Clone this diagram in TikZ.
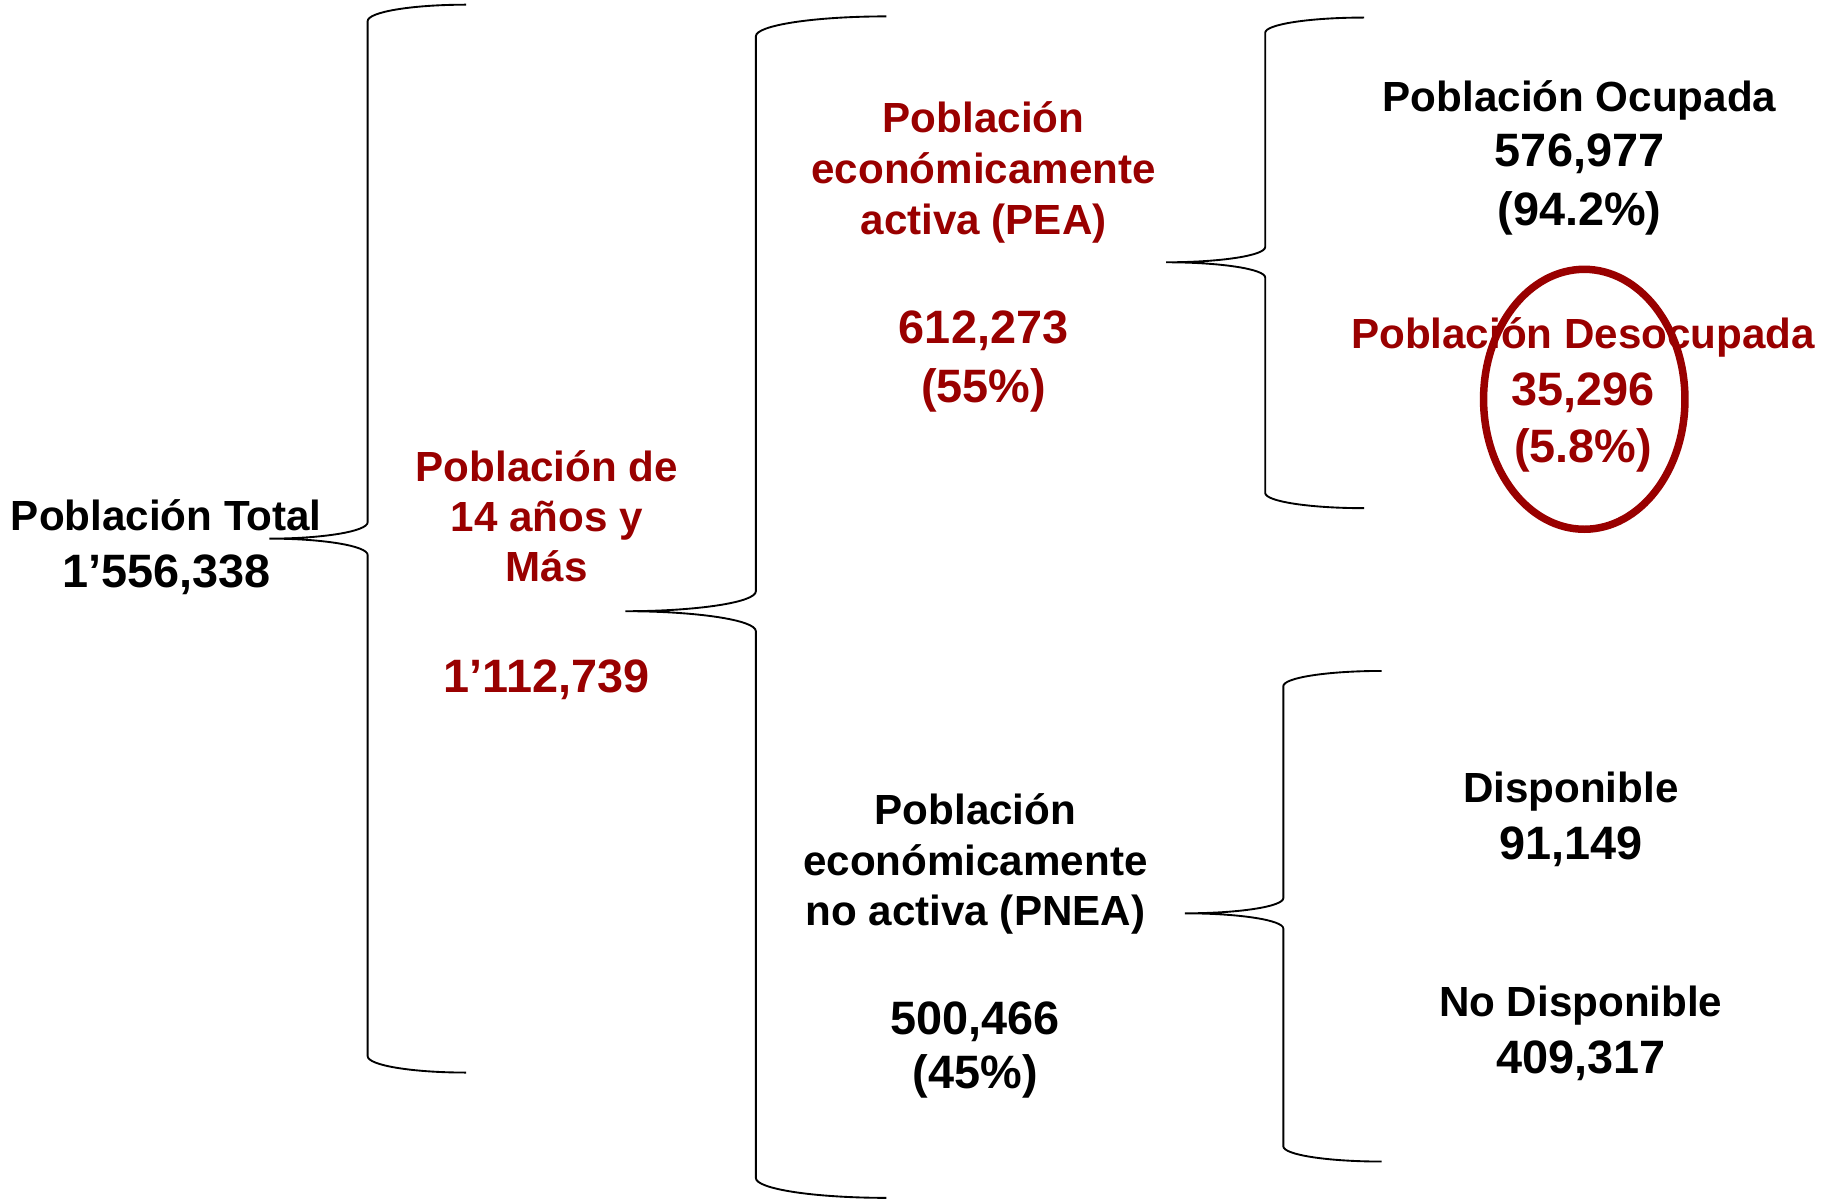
\documentclass[tikz,border=0pt]{standalone}
\usepackage{fontspec}
\setmainfont{Liberation Sans}
\definecolor{pr}{RGB}{153,0,0}
\newcommand{\drawbrace}[6]{%
 \pgfmathsetmacro{\bxv}{(#1+#3)/2}%
 \pgfmathsetmacro{\brx}{(#3-#1)/2}%
 \draw[bracestyle] (#3,#4) .. controls ({#3-0.5523*\brx},#4) and (\bxv,{#4+0.4477*#6}) .. (\bxv,{#4+#6})
   -- (\bxv,{#2-#6}) .. controls (\bxv,{#2-0.4477*#6}) and ({#1+0.5523*\brx},#2) .. (#1,#2)
   .. controls ({#1+0.5523*\brx},#2) and (\bxv,{#2+0.4477*#6}) .. (\bxv,{#2+#6})
   -- (\bxv,{#5-#6}) .. controls (\bxv,{#5-0.4477*#6}) and ({#3-0.5523*\brx},#5) .. (#3,#5);
}
\begin{document}
\begin{tikzpicture}[x=0.5pt,y=-0.5pt,
  bracestyle/.style={draw=black,line width=0.8pt},
  lbl/.style={anchor=base,inner sep=0pt,font=\fontsize{18}{22}\selectfont\bfseries},
  num/.style={anchor=base,inner sep=0pt,font=\fontsize{20}{24}\selectfont\bfseries},
  rd/.style={text=pr}]
\useasboundingbox (0,0) rectangle (1568,1027);

% braces
\drawbrace{230}{460}{398}{4}{916}{14}
\drawbrace{534}{522}{757}{14}{1023}{17}
\drawbrace{996}{224}{1165}{15}{434}{13}
\drawbrace{1012}{780}{1180}{573}{992}{13}

% Poblacion total
\node[lbl] (a1) at (142,453) {Población Total};
\node[num] (a2) at (142,502) {1’556,338};

% 14 anos y mas
\node[lbl,rd] (b1) at (467,411) {Población de};
\node[lbl,rd] (b2) at (467,454) {14 años y};
\node[lbl,rd] (b3) at (467,497) {Más};
\node[num,rd] (b4) at (467,591) {1’112,739};

% PEA
\node[lbl,rd] (c1) at (840,113) {Población};
\node[lbl,rd] (c2) at (840,157) {económicamente};
\node[lbl,rd] (c3) at (840,200.5) {activa (PEA)};
\node[num,rd] (c4) at (840,293) {612,273};
\node[num,rd] (c5) at (840,344) {(55\%)};

% PNEA
\node[lbl] (d1) at (833,704.5) {Población};
\node[lbl] (d2) at (833,747.5) {económicamente};
\node[lbl] (d3) at (833,790) {no activa (PNEA)};
\node[num] (d4) at (833,883.5) {500,466};
\node[num] (d5) at (833,930) {(45\%)};

% Ocupada
\node[lbl] (e1) at (1349,95.5) {Población Ocupada};
\node[num] (e2) at (1349,142.5) {576,977};
\node[num] (e3) at (1349,193) {(94.2\%)};

% Desocupada
\node[lbl,rd] (f1) at (1352,297.5) {Población Desocupada};
\node[num,rd] (f2) at (1352,346) {35,296};
\node[num,rd] (f3) at (1352,395) {(5.8\%)};
\draw[draw=pr,line width=3.2pt] (1353,341) ellipse [x radius=86, y radius=111];

% Disponible
\node[lbl] (g1) at (1341.5,685.5) {Disponible};
\node[num] (g2) at (1341.5,734) {91,149};
\node[lbl] (h1) at (1350,868) {No Disponible};
\node[num] (h2) at (1350,917) {409,317};
\end{tikzpicture}
\end{document}
